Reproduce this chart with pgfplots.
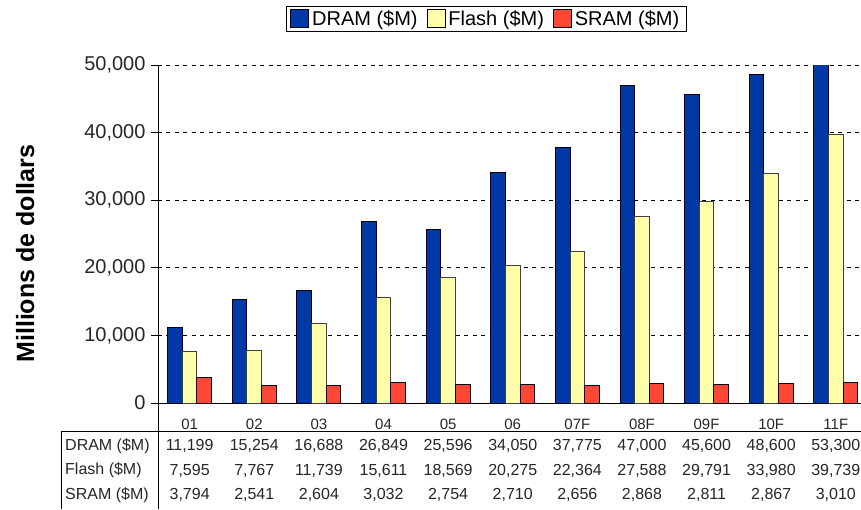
\documentclass[border=0pt]{standalone}
\usepackage{fontspec}
\setmainfont{Liberation Sans}
\usepackage{pgfplots}
\usepackage{pgfplotstable}
\pgfplotsset{compat=1.18}
\definecolor{dramc}{RGB}{0,57,166}
\definecolor{flashc}{RGB}{255,255,170}
\definecolor{sramc}{RGB}{255,70,55}
\pgfkeys{/pgf/number format/.cd, assume math mode=true, 1000 sep={,}}
\pgfplotstableread{
x dram flash sram
0 11199 7595 3794
1 15254 7767 2541
2 16688 11739 2604
3 26849 15611 3032
4 25596 18569 2754
5 34050 20275 2710
6 37775 22364 2656
7 47000 27588 2868
8 45600 29791 2811
9 48600 33980 2867
10 53300 39739 3010
}\datatable
\begin{document}
\begin{tikzpicture}
\path[use as bounding box] (-158pt,-106pt) rectangle (703pt,403pt);
\begin{axis}[
  at={(0pt,0pt)}, anchor=south west,
  scale only axis, width=703pt, height=338pt,
  ybar=0pt, bar width=14.6pt,
  xmin=-0.49, xmax=10.39, ymin=0, ymax=50000,
  axis x line*=bottom, axis y line*=left,
  axis line style={black, line width=0.8pt},
  xtick=data,
  xticklabels={01,02,03,04,05,06,07F,08F,09F,10F,11F},
  xtick style={draw=none},
  xticklabel style={anchor=center, yshift=-14pt, font=\fontsize{15}{18}\selectfont, text=black!85},
  ytick={0,10000,20000,30000,40000,50000},
  ytick pos=left, tick align=outside, major tick length=7pt,
  ytick style={black, line width=0.8pt},
  yticklabel style={font=\fontsize{20}{24}\selectfont, text=black!85, xshift=-2pt},
  scaled y ticks=false,
  ymajorgrids, grid style={black, dash pattern=on 4pt off 4.5pt, line width=0.8pt},
  ylabel={Millions de dollars},
  ylabel style={at={(axis description cs:-0.189,0.442)}, anchor=center, font=\fontsize{25}{30}\selectfont\bfseries},
  legend columns=3,
  legend style={at={(0.467,1.136)}, anchor=center, draw=black, line width=0.8pt,
    font=\fontsize{20}{24}\selectfont, inner xsep=4pt, inner ysep=2pt,
    nodes={inner xsep=3pt},
    /tikz/every even column/.append style={column sep=6pt}},
  legend image code/.code={\draw[#1, draw=black, line width=0.8pt] (0pt,-8.5pt) rectangle (18pt,9.5pt);},
]
\addplot[fill=dramc, draw=black, line width=1pt] table[x=x, y=dram] {\datatable};
\addplot[fill=flashc, draw=black!75, line width=1pt] table[x=x, y=flash] {\datatable};
\addplot[fill=sramc, draw=black, line width=1pt] table[x=x, y=sram] {\datatable};
\legend{DRAM (\$M), Flash (\$M), SRAM (\$M)}
\pgfplotsinvokeforeach{0,...,10}{\coordinate (c#1) at (axis cs:#1,0);}
\end{axis}
\draw[black, line width=0.8pt] (0pt,0pt) -- (0pt,-106pt);
\draw[black, line width=0.8pt] (-97pt,-106pt) -- (-97pt,-28pt) -- (703pt,-28pt);
\begin{scope}[every node/.style={font=\fontsize{16}{19}\selectfont, text=black!85, inner sep=0pt}]
\node[anchor=west] at (-93pt,-43pt) {DRAM (\$M)};
\node[anchor=west] at (-93pt,-67.5pt) {Flash (\$M)};
\node[anchor=west] at (-93pt,-92pt) {SRAM (\$M)};
\foreach \i in {0,...,10}{
  \pgfplotstablegetelem{\i}{dram}\of\datatable \let\va\pgfplotsretval
  \pgfplotstablegetelem{\i}{flash}\of\datatable \let\vb\pgfplotsretval
  \pgfplotstablegetelem{\i}{sram}\of\datatable \let\vc\pgfplotsretval
  \node at (c\i |- 0,-43pt) {\pgfmathprintnumber{\va}};
  \node at (c\i |- 0,-67.5pt) {\pgfmathprintnumber{\vb}};
  \node at (c\i |- 0,-92pt) {\pgfmathprintnumber{\vc}};
}
\end{scope}
\end{tikzpicture}
\end{document}
